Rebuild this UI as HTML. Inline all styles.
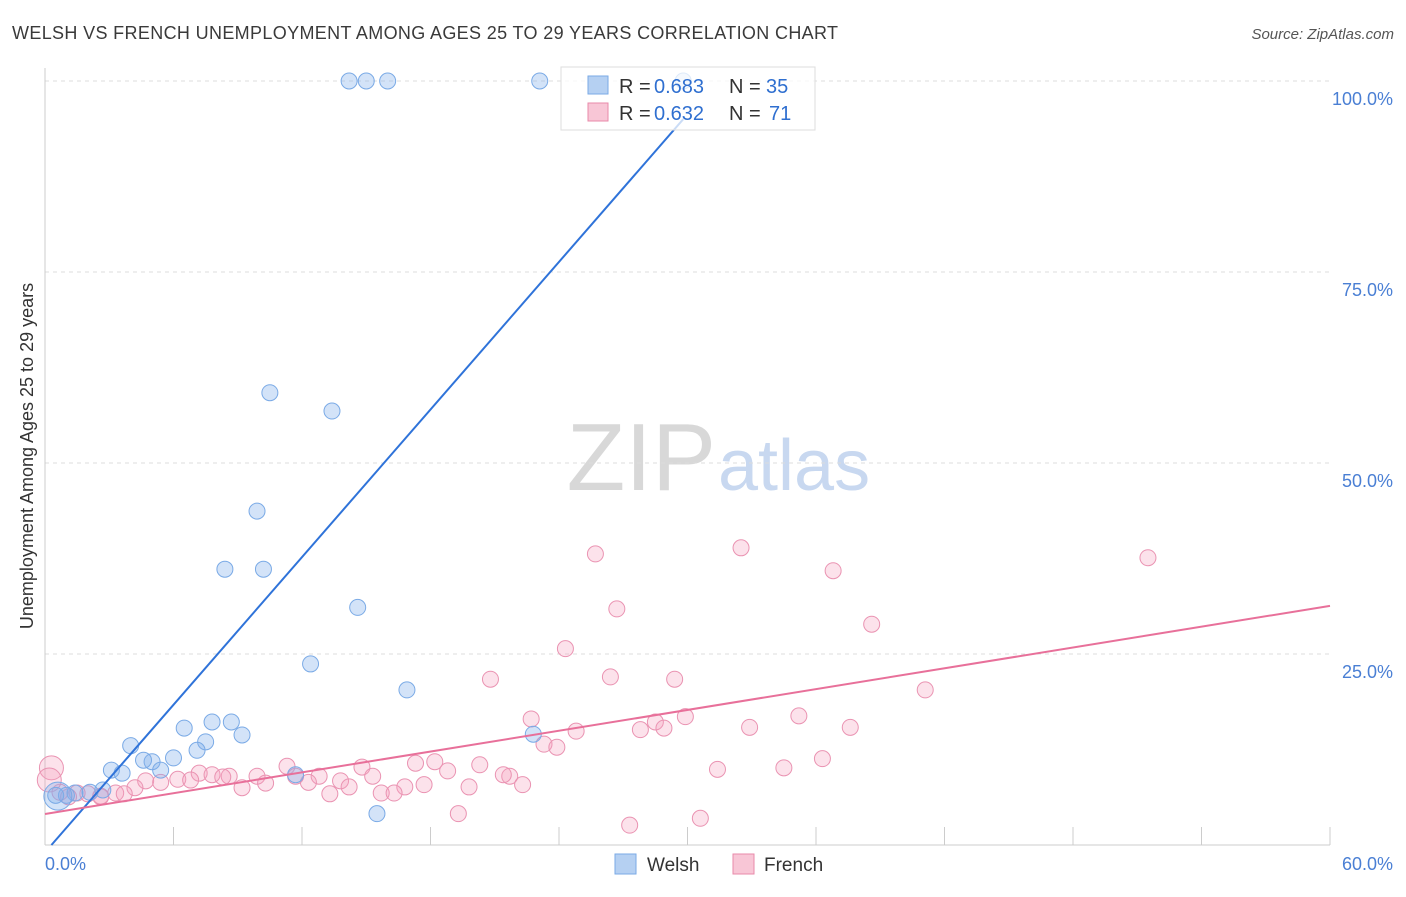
<!DOCTYPE html>
<html><head><meta charset="utf-8">
<style>
body{margin:0;background:#fff;font-family:"Liberation Sans",sans-serif;}
svg text{font-family:"Liberation Sans",sans-serif;}
</style></head>
<body>
<svg id="chart" width="1406" height="892" viewBox="0 0 1406 892">
<text x="12" y="39" font-size="18" fill="#3a3a3a" letter-spacing="0.35">WELSH VS FRENCH UNEMPLOYMENT AMONG AGES 25 TO 29 YEARS CORRELATION CHART</text>
<text x="1394" y="39" font-size="15" fill="#555" font-style="italic" text-anchor="end">Source: ZipAtlas.com</text>
<text x="33" y="456" font-size="18" fill="#333" text-anchor="middle" transform="rotate(-90 33 456)">Unemployment Among Ages 25 to 29 years</text>
<text x="716" y="490" font-size="96" fill="#d8d8d8" text-anchor="end" font-family="Liberation Serif">ZIP</text>
<text x="718" y="490" font-size="72" fill="#c8d8f0">atlas</text>
<g id="grid"></g>
<g id="axes"></g>
<g id="marks"></g>
<g>
<rect x="561" y="67" width="254" height="63" fill="#fff" fill-opacity="0.75" stroke="#ddd"/>
<rect x="588" y="76" width="20" height="18" fill="#b5d0f2" stroke="#7aaae6"/>
<text x="619" y="93" font-size="20" fill="#333">R =</text>
<text x="654" y="93" font-size="20" fill="#2f6fd0">0.683</text>
<text x="729" y="93" font-size="20" fill="#333">N =</text>
<text x="766" y="93" font-size="20" fill="#2f6fd0">35</text>
<rect x="588" y="103" width="20" height="18" fill="#f8c6d6" stroke="#e88aaa"/>
<text x="619" y="120" font-size="20" fill="#333">R =</text>
<text x="654" y="120" font-size="20" fill="#2f6fd0">0.632</text>
<text x="729" y="120" font-size="20" fill="#333">N =</text>
<text x="769" y="120" font-size="20" fill="#2f6fd0">71</text>
</g>
<g>
<rect x="615" y="854" width="21" height="20" fill="#b5d0f2" stroke="#7aaae6"/>
<text x="647" y="871" font-size="19" fill="#333">Welsh</text>
<rect x="733" y="854" width="21" height="20" fill="#f8c6d6" stroke="#e88aaa"/>
<text x="764" y="871" font-size="19" fill="#333">French</text>
</g>
</svg>
<script>
const xTicks=[0,6,12,18,24,30,36,42,48,54,60];
const yTicks=[25,50,75,100];
const yTickLabels=["25.0%","50.0%","75.0%","100.0%"];
const welshX=[14.2,15.0,16.0,23.1,29.8,10.5,13.4,9.9,8.4,10.2,14.6,12.4,16.9,22.8,6.5,7.8,8.7,9.2,7.5,4.0,6.0,5.0,7.1,4.6,5.4,3.1,3.6,11.7,2.7,2.1,1.4,1.0,0.6,15.5,0.5];
const welshY=[100,100,100,100,100,59.2,56.8,43.7,36.1,36.1,31.1,23.7,20.3,14.5,15.3,16.1,16.1,14.4,13.5,13.0,11.4,10.9,12.4,11.1,9.8,9.8,9.4,9.2,7.2,6.9,6.8,6.5,6.4,4.1,6.5];
const frenchX=[25.7,32.5,51.5,36.8,26.7,38.6,24.3,20.8,26.4,29.4,41.1,22.7,29.9,35.2,28.5,27.8,28.9,32.9,37.6,24.8,23.3,23.9,36.3,31.4,34.5,14.8,17.3,18.2,20.3,18.8,11.3,21.7,21.4,12.8,15.3,13.8,12.3,11.7,8.6,7.2,7.8,9.9,8.3,6.2,4.7,5.4,6.8,10.3,9.2,14.2,16.8,17.7,19.8,22.3,15.7,16.3,13.3,3.3,4.2,3.7,2.6,2.0,1.5,1.1,0.7,0.3,0.2,19.3,27.3,30.6,2.6];
const frenchY=[38.1,38.9,37.6,35.9,30.9,28.9,25.7,21.7,22.0,21.7,20.3,16.5,16.8,16.9,16.1,15.1,15.3,15.4,15.4,14.9,13.2,12.8,11.3,9.9,10.1,10.2,10.7,10.9,10.5,9.7,10.3,9.0,9.2,9.0,9.0,8.4,8.2,9.0,9.0,9.4,9.2,9.0,8.9,8.6,8.4,8.2,8.5,8.1,7.5,7.6,7.6,7.9,7.6,7.9,6.8,6.8,6.7,6.8,7.5,6.7,6.3,6.7,6.8,6.3,6.9,10.1,8.5,4.1,2.6,3.5,6.4];
const welshLine=[0.3,0,29.8,95];
const frenchLine=[0,4.06,60,31.3];
const NS="http://www.w3.org/2000/svg";
const X=v=>45+v/60*1285, Y=v=>845-v/100*764;
function mk(tag,attrs,parent){const e=document.createElementNS(NS,tag);for(const k in attrs)e.setAttribute(k,attrs[k]);parent.appendChild(e);return e;}
const grid=document.getElementById('grid'),axes=document.getElementById('axes'),marks=document.getElementById('marks');
yTicks.forEach((t,i)=>{
 const g=mk('line',{x1:45,x2:1330,y1:Y(t),y2:Y(t),stroke:'#ddd','stroke-dasharray':'4,4'},grid);
 
 
 const l=mk('text',{x:1393,y:Y(t)+24,'font-size':18,fill:'#4a7fd4','text-anchor':'end'},axes);l.textContent=yTickLabels[i];
 
 
});
const xa=mk('line',{x1:45,x2:1330,y1:845,y2:845,stroke:'#ccc'},axes);


const ya=mk('line',{x1:45,x2:45,y1:68,y2:845,stroke:'#ccc'},axes);


xTicks.forEach(t=>{const k=mk('line',{x1:X(t),x2:X(t),y1:827,y2:845,stroke:'#ccc'},axes);
 
 });
const l0=mk('text',{x:45,y:870,'font-size':18,fill:'#4a7fd4'},axes);l0.textContent="0.0%";


const l1=mk('text',{x:1393,y:870,'font-size':18,fill:'#4a7fd4','text-anchor':'end'},axes);l1.textContent="60.0%";


frenchX.forEach((x,i)=>{const r=(i>=65&&i<=66)?12:8;const c=mk('circle',{cx:X(x),cy:Y(frenchY[i]),r:r,fill:'rgba(244,160,190,0.3)',stroke:'#ea93b2','stroke-width':1},marks);
 
 });
welshX.forEach((x,i)=>{const r=i===32?14:8;const c=mk('circle',{cx:X(x),cy:Y(welshY[i]),r:r,fill:'rgba(130,175,235,0.35)',stroke:'#7aaae6','stroke-width':1},marks);
 
 });
const wl=mk('line',{x1:X(welshLine[0]),y1:Y(welshLine[1]),x2:X(welshLine[2]),y2:Y(welshLine[3]),stroke:'#2f73d9','stroke-width':2},marks);


const fl=mk('line',{x1:X(frenchLine[0]),y1:Y(frenchLine[1]),x2:X(frenchLine[2]),y2:Y(frenchLine[3]),stroke:'#e8709a','stroke-width':2},marks);


</script>
</body></html>
